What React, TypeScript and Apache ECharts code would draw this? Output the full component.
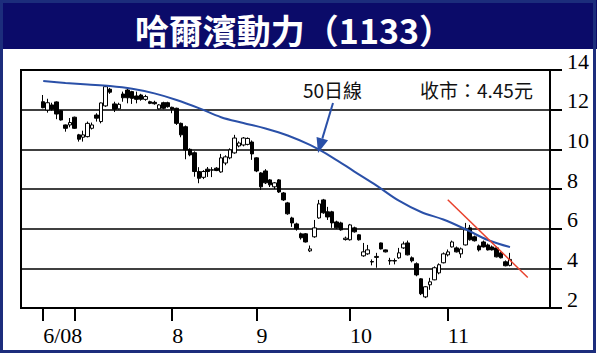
import React, { useEffect, useRef } from "react";
import * as echarts from "echarts";

const TITLE = "哈爾濱動力（1133）";
const MA_LABEL = "50日線";
const CLOSE_LABEL = "收市：4.45元";

const CATEGORY_COUNT = 120;
const FIRST_INDEX = 5;

// [open, close, low, high]
const candles: number[][] = [
  [12.4, 12.1, 12.07, 12.74],
  [11.98, 12.35, 11.85, 12.55],
  [12.24, 12.02, 11.95, 12.35],
  [12.39, 11.78, 11.52, 12.42],
  [11.95, 11.48, 11.45, 11.98],
  [11.23, 11.06, 10.89, 11.25],
  [11.23, 11.35, 11.11, 11.58],
  [11.62, 11.06, 11.03, 11.65],
  [10.73, 10.51, 10.39, 10.78],
  [10.61, 10.73, 10.39, 10.94],
  [10.64, 11.31, 10.6, 11.4],
  [11.06, 11.23, 11.0, 11.35],
  [11.73, 11.57, 11.4, 11.82],
  [11.4, 12.34, 11.31, 12.36],
  [12.19, 13.16, 12.14, 13.24],
  [13.03, 12.88, 12.8, 13.1],
  [12.29, 12.02, 11.88, 12.4],
  [12.04, 12.27, 12.0, 12.35],
  [12.79, 12.6, 12.4, 12.91],
  [12.99, 12.6, 12.32, 13.05],
  [12.91, 12.57, 12.29, 12.95],
  [12.69, 12.52, 12.32, 12.91],
  [12.74, 12.52, 12.45, 12.8],
  [12.52, 12.66, 12.45, 12.75],
  [12.4, 12.32, 12.28, 12.45],
  [12.37, 12.3, 12.25, 12.45],
  [12.04, 12.24, 12.0, 12.28],
  [12.35, 12.07, 12.02, 12.4],
  [12.35, 12.15, 12.1, 12.4],
  [12.12, 12.02, 11.82, 12.15],
  [12.07, 11.31, 11.23, 12.1],
  [11.31, 10.73, 10.61, 11.35],
  [11.14, 9.97, 9.5, 11.2],
  [10.0, 9.72, 9.65, 10.05],
  [9.83, 8.88, 8.62, 9.9],
  [8.88, 8.54, 8.29, 9.1],
  [8.59, 8.88, 8.5, 8.95],
  [9.0, 8.88, 8.61, 9.11],
  [8.97, 8.95, 8.6, 9.1],
  [9.05, 8.93, 8.9, 9.1],
  [8.86, 9.57, 8.82, 9.77],
  [9.31, 9.62, 9.2, 9.7],
  [9.57, 9.97, 9.5, 10.05],
  [9.82, 10.57, 9.78, 10.73],
  [10.17, 10.32, 10.1, 10.4],
  [10.22, 10.57, 10.15, 10.62],
  [10.25, 10.55, 10.2, 10.6],
  [10.37, 9.77, 9.47, 10.45],
  [9.57, 8.91, 8.85, 9.6],
  [8.81, 8.11, 7.95, 8.85],
  [8.91, 8.31, 8.25, 9.0],
  [8.46, 8.21, 8.1, 8.5],
  [8.11, 8.31, 8.0, 8.35],
  [8.46, 7.85, 7.8, 8.5],
  [7.8, 7.45, 7.4, 7.85],
  [7.3, 6.75, 6.7, 7.35],
  [6.54, 6.29, 6.09, 6.6],
  [6.24, 5.99, 5.9, 6.3],
  [5.74, 5.54, 5.45, 5.8],
  [5.74, 5.33, 5.3, 5.78],
  [4.88, 4.98, 4.82, 5.15],
  [5.59, 6.04, 5.54, 6.44],
  [6.54, 7.25, 6.5, 7.45],
  [7.45, 6.8, 6.75, 7.5],
  [6.85, 6.59, 6.44, 7.1],
  [6.85, 6.29, 6.04, 6.9],
  [6.34, 6.04, 6.0, 6.4],
  [6.29, 5.94, 5.9, 6.35],
  [5.45, 5.52, 5.4, 5.6],
  [5.44, 6.19, 5.4, 6.24],
  [6.04, 5.84, 5.8, 6.1],
  [5.69, 5.44, 5.4, 5.72],
  [4.63, 4.83, 4.58, 5.28],
  [4.73, 4.93, 4.68, 5.18],
  [4.34, 4.32, 4.15, 4.45],
  [4.55, 4.6, 4.03, 4.78],
  [5.28, 4.98, 4.95, 5.3],
  [4.93, 4.83, 4.8, 4.95],
  [4.4, 4.37, 4.18, 4.53],
  [4.39, 4.37, 4.2, 4.5],
  [4.53, 4.78, 4.48, 5.03],
  [5.03, 5.23, 4.98, 5.35],
  [5.28, 4.68, 4.65, 5.4],
  [4.53, 4.38, 4.3, 4.6],
  [4.23, 3.67, 3.6, 4.3],
  [3.47, 2.72, 2.65, 3.5],
  [2.56, 3.07, 2.5, 3.1],
  [3.17, 3.32, 2.92, 3.52],
  [3.42, 4.03, 3.4, 4.1],
  [3.77, 4.18, 3.7, 4.25],
  [4.28, 4.73, 4.25, 4.8],
  [4.68, 4.83, 4.6, 4.95],
  [5.08, 5.33, 5.05, 5.4],
  [5.03, 4.83, 4.8, 5.1],
  [4.73, 4.98, 4.53, 5.05],
  [5.18, 5.94, 5.15, 6.29],
  [6.04, 5.44, 5.4, 6.19],
  [5.59, 5.39, 5.35, 5.65],
  [5.13, 4.93, 4.85, 5.2],
  [5.33, 5.08, 5.05, 5.4],
  [5.18, 4.93, 4.9, 5.25],
  [5.08, 4.93, 4.9, 5.15],
  [5.03, 4.58, 4.55, 5.1],
  [4.78, 4.53, 4.5, 4.85],
  [4.33, 4.13, 4.1, 4.4],
  [4.15, 4.45, 4.1, 4.78],
];

// 50-day moving average: [category index, value]
const maPoints: number[][] = [
  [5, 13.45], [10, 13.35], [15, 13.27], [20, 13.19], [25, 13.05],
  [30, 12.82], [35, 12.49], [40, 12.08], [45, 11.62], [50, 11.33],
  [55, 11.05], [60, 10.7], [65, 10.22], [70, 9.6], [75, 8.88],
  [80, 8.17], [85, 7.41], [90, 6.84], [95, 6.46], [100, 5.97],
  [105, 5.43], [110, 5.07],
];

// down-trend line: [category index, value]
const trendLine: number[][] = [
  [96, 7.46],
  [114, 3.54],
];

const monthTickIndex = [5, 12, 34, 53, 74, 96];
const monthTickLabel = ["6/08", "", "8", "9", "10", "11"];

const Y_MIN = 2;
const Y_MAX = 14;
const Y_STEP = 2;

const categories = Array.from({ length: CATEGORY_COUNT }, (_, i) => String(i));

export default function App() {
  const ref = useRef<HTMLDivElement>(null);

  useEffect(() => {
    if (!ref.current) return;
    const chart = echarts.init(ref.current, undefined, { renderer: "svg" });
    const NAVY = "#0b0b69";
    const BLUE = "#2a50a8";
    const RED = "#e8412c";
    const serif = "'Liberation Serif', 'DejaVu Serif', serif";
    const cjk = "'Noto Sans CJK TC', 'Noto Sans', sans-serif";

    const candleData = candles.map((c, k) => [FIRST_INDEX + k, c[0], c[1], c[2], c[3]]);

    // arrow geometry (annotation)
    const tip = [318, 153];
    const start = [333, 103];
    const dx = tip[0] - start[0];
    const dy = tip[1] - start[1];
    const len = Math.sqrt(dx * dx + dy * dy);
    const ux = dx / len;
    const uy = dy / len;
    const headLen = 15;
    const halfW = 6;
    const bx = tip[0] - ux * headLen;
    const by = tip[1] - uy * headLen;

    chart.setOption({
      animation: false,
      backgroundColor: "#ffffff",
      grid: {
        left: 21,
        right: 47,
        top: 70,
        bottom: 47,
        show: true,
        borderColor: "#000",
        borderWidth: 2,
        backgroundColor: "transparent",
      },
      xAxis: {
        type: "category",
        data: categories,
        boundaryGap: false,
        axisLine: { show: true, lineStyle: { color: "#000", width: 2 } },
        axisTick: {
          show: true,
          length: 13,
          interval: (index: number) => monthTickIndex.includes(index),
          lineStyle: { color: "#000", width: 2 },
        },
        axisLabel: {
          show: true,
          interval: (index: number) => monthTickIndex.includes(index),
          formatter: (_v: string, index: number) => {
            const k = monthTickIndex.indexOf(index);
            return k >= 0 ? monthTickLabel[k] : "";
          },
          align: "left",
          margin: 16,
          color: "#000",
          fontFamily: serif,
          fontSize: 22,
        },
        splitLine: { show: false },
      },
      yAxis: {
        type: "value",
        position: "right",
        min: Y_MIN,
        max: Y_MAX,
        interval: Y_STEP,
        axisLine: { show: true, lineStyle: { color: "#000", width: 2 } },
        axisTick: { show: true, length: 12, lineStyle: { color: "#000", width: 2 } },
        axisLabel: {
          margin: 17,
          color: "#000",
          fontFamily: serif,
          fontSize: 22,
          verticalAlign: "bottom",
          lineHeight: 18,
        },
        splitLine: { show: true, lineStyle: { color: "#000", width: 1.5 } },
      },
      series: [
        {
          type: "candlestick",
          data: candleData,
          encode: { x: 0, y: [1, 2, 3, 4] },
          barWidth: 4,
          itemStyle: {
            color: "#ffffff",
            color0: "#000000",
            borderColor: "#000000",
            borderColor0: "#000000",
            borderWidth: 1,
          },
          z: 3,
        },
        {
          type: "line",
          data: maPoints,
          smooth: 0.35,
          symbol: "none",
          lineStyle: { color: BLUE, width: 2 },
          z: 4,
        },
        {
          type: "line",
          data: trendLine,
          symbol: "none",
          lineStyle: { color: RED, width: 1.5 },
          z: 5,
        },
      ],
      graphic: [
        {
          type: "rect",
          shape: { x: 0, y: 0, width: 597, height: 49 },
          style: { fill: NAVY },
          z: 10,
        },
        {
          type: "text",
          x: 294,
          y: 29,
          style: {
            text: TITLE,
            fill: "#ffffff",
            font: `bold 34px ${cjk}`,
            align: "center",
            verticalAlign: "middle",
          },
          z: 11,
        },
        {
          type: "rect",
          shape: { x: 1.5, y: 1.5, width: 593, height: 350 },
          style: { fill: "none", stroke: "#1c2d7c", lineWidth: 3 },
          z: 12,
        },
        {
          type: "text",
          x: 303,
          y: 89,
          style: {
            text: MA_LABEL,
            fill: "#111",
            font: `19px ${cjk}`,
            align: "left",
            verticalAlign: "middle",
          },
          z: 11,
        },
        {
          type: "text",
          x: 420,
          y: 89,
          style: {
            text: CLOSE_LABEL,
            fill: "#111",
            font: `19px ${cjk}`,
            align: "left",
            verticalAlign: "middle",
          },
          z: 11,
        },
        {
          type: "line",
          shape: { x1: start[0], y1: start[1], x2: bx, y2: by },
          style: { stroke: BLUE, lineWidth: 2 },
          z: 11,
        },
        {
          type: "polygon",
          shape: {
            points: [
              [tip[0], tip[1]],
              [bx - uy * halfW, by + ux * halfW],
              [bx + uy * halfW, by - ux * halfW],
            ],
          },
          style: { fill: BLUE },
          z: 11,
        },
      ],
    });

    return () => chart.dispose();
  }, []);

  return (
    <div
      ref={ref}
      style={{ position: "absolute", left: 0, top: 0, width: 597, height: 355, background: "#fff" }}
    />
  );
}
